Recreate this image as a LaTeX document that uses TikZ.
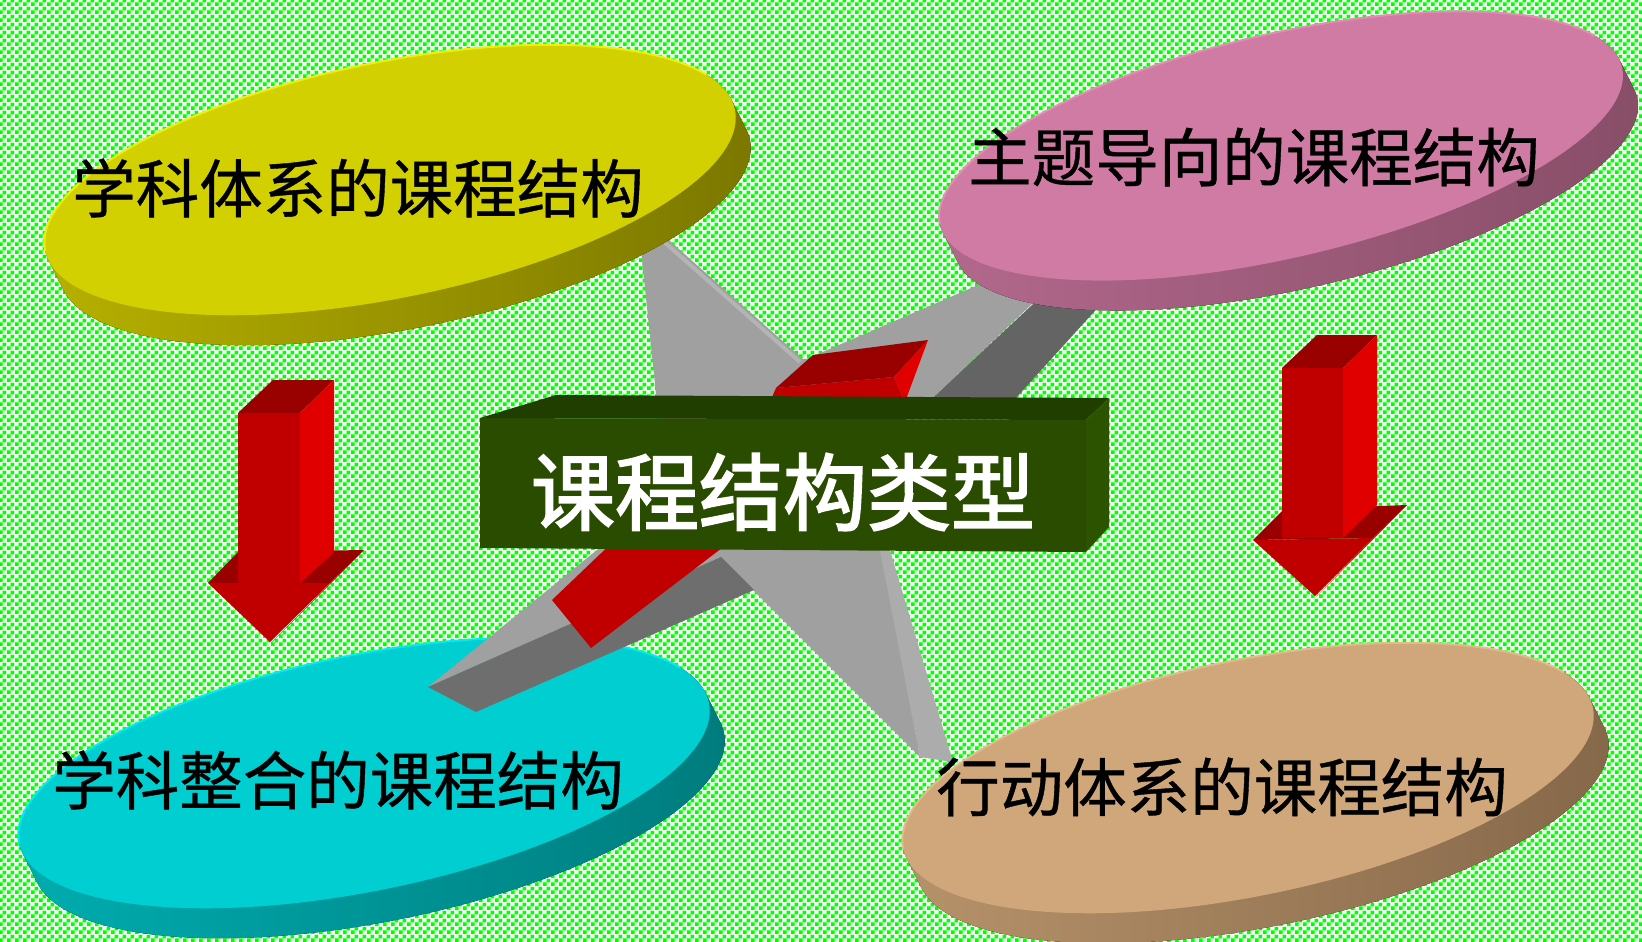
\documentclass[tikz,border=0pt]{standalone}
\usepackage{fontspec}
\newfontfamily\cjk{Noto Sans CJK SC}[FakeBold=0.6]
\newfontfamily\cjkhead{Noto Sans CJK SC}[FakeBold=2.2]
\usetikzlibrary{patterns}

% green/white checker used for the backdrop
\pgfdeclarepatternformonly{greencheck}{\pgfqpoint{0pt}{0pt}}{\pgfqpoint{8pt}{8pt}}{\pgfqpoint{8pt}{8pt}}{%
  \pgfpathrectangle{\pgfqpoint{0pt}{0pt}}{\pgfqpoint{4pt}{4pt}}%
  \pgfpathrectangle{\pgfqpoint{4pt}{4pt}}{\pgfqpoint{4pt}{4pt}}%
  \pgfusepath{fill}}

\definecolor{bggreen}{RGB}{0,255,0}
\definecolor{bgpale}{RGB}{232,255,232}
\definecolor{yelface}{RGB}{210,208,0}
\definecolor{yelsideA}{RGB}{182,176,0}
\definecolor{yelsideB}{RGB}{124,120,0}
\definecolor{yelrim}{RGB}{240,240,0}
\definecolor{pinkface}{RGB}{207,123,163}
\definecolor{pinksideA}{RGB}{178,104,140}
\definecolor{pinksideB}{RGB}{136,78,104}
\definecolor{pinkrim}{RGB}{228,140,182}
\definecolor{cyanface}{RGB}{0,206,209}
\definecolor{cyansideA}{RGB}{0,172,175}
\definecolor{cyansideB}{RGB}{0,124,126}
\definecolor{cyanrim}{RGB}{0,236,240}
\definecolor{tanface}{RGB}{207,167,123}
\definecolor{tansideA}{RGB}{182,146,106}
\definecolor{tansideB}{RGB}{134,104,74}
\definecolor{tanrim}{RGB}{226,186,140}
\definecolor{starlight}{RGB}{160,160,160}
\definecolor{stardarkA}{RGB}{100,100,100}
\definecolor{stardarkB}{RGB}{110,110,110}
\definecolor{starside}{RGB}{172,172,172}
\definecolor{starbevel}{RGB}{180,180,180}
\definecolor{redtop}{RGB}{153,0,0}
\definecolor{redfront}{RGB}{192,0,0}
\definecolor{redright}{RGB}{224,0,0}
\definecolor{boxfront}{RGB}{42,76,0}
\definecolor{boxtop}{RGB}{32,62,0}
\definecolor{boxright}{RGB}{44,84,0}

% a tilted disc seen in 3D: #1 centre, #2 tilt, #3/#4 radii,
% #5 face colour, #6/#7 side shading, #8 rim colour
\newcommand\drawdisc[8]{%
  \begin{scope}[shift={#1}, rotate=#2, x=1pt, y=1pt]
    \pgfmathsetmacro\dsx{15*cos(#2)-30*sin(#2)}%
    \pgfmathsetmacro\dsy{-15*sin(#2)-30*cos(#2)}%
    \pgfmathsetmacro\dta{atan((\dsx*#4)/(-\dsy*#3))}%
    \pgfmathsetmacro\dtb{\dta+180}%
    \pgfmathsetmacro\dtc{\dta+360}%
    \pgfmathsetmacro\dtd{\dta+15}%
    \pgfmathsetmacro\dte{\dta+175}%
    \fill[left color=#6, right color=#7]
      plot[domain=\dta:\dtb, samples=100] ({#3*cos(\x)}, {#4*sin(\x)})
      -- plot[domain=\dtb:\dtc, samples=100] ({\dsx+#3*cos(\x)}, {\dsy+#4*sin(\x)})
      -- cycle;
    \fill[#5] (0,0) ellipse [x radius=#3, y radius=#4];
    \draw[#8, line width=2pt, line cap=round]
      plot[domain=\dtd:\dte, samples=80] ({#3*cos(\x)}, {#4*sin(\x)});
  \end{scope}}

\begin{document}
\begin{tikzpicture}[x=1pt, y=-1pt,
  label/.style={font=\cjk\fontsize{63.5}{70}\selectfont, text=black, inner sep=0pt},
  title/.style={font=\cjkhead\fontsize{84}{92}\selectfont, text=white, inner sep=0pt}]

\useasboundingbox (0,0) rectangle (1642,942);
\fill[bgpale] (0,0) rectangle (1642,942);
\fill[pattern=greencheck, pattern color=bggreen] (0,0) rectangle (1642,942);

% lower discs sit beneath the star
\drawdisc{(364,773)}{11.5}{352}{118}{cyanface}{cyansideA}{cyansideB}{cyanrim}
\drawdisc{(1248,778)}{11.5}{352}{118}{tanface}{tansideA}{tansideB}{tanrim}

% four-pointed grey star
\fill[starlight] (637,212) -- (804,360) -- (1113,227) -- (920,410) -- (838,420)
  -- (882,553) -- (920,757) -- (723,560) -- (721,557) -- (428,687) -- (597,550)
  -- (640,515) -- (665,480) -- cycle;
\fill[stardarkA] (920,410) -- (1110,232) -- (1150,250) -- (1005,410) -- cycle;
\fill[stardarkB] (428,687) -- (476,712) -- (754,590) -- (721,557) -- cycle;
\fill[starside] (876,530) -- (920,757) -- (953,762) -- (884,530) -- cycle;
\draw[starbevel, line width=4pt] (662,240) -- (800,362);

% red bar crossing behind the title block
\fill[redfront] (552,600) -- (591,648) -- (735,538) -- (617,538) -- cycle;
\fill[redfront] (776,388) -- (894,377) -- (905,402) -- (905,425) -- (760,425) -- cycle;
\fill[redtop] (776,388) -- (813,355) -- (928,340) -- (894,377) -- cycle;
\fill[redright] (894,377) -- (928,340) -- (905,402) -- cycle;

% upper discs cover the star tips
\drawdisc{(390,180)}{11.5}{352}{118}{yelface}{yelsideA}{yelsideB}{yelrim}
\drawdisc{(1281,146)}{13}{350}{112}{pinkface}{pinksideA}{pinksideB}{pinkrim}

% title block
\fill[boxtop] (480,418) -- (556,395) -- (1109,398) -- (1086,420) -- cycle;
\fill[boxright] (1086,420) -- (1109,398) -- (1109,527) -- (1086,552) -- cycle;
\fill[boxfront] (480,418) -- (1086,420) -- (1086,552) -- (480,548) -- cycle;
\node[title] (main) at (783,492) {课程结构类型};

% left downward arrow
\fill[redtop] (208,583) -- (238,552) -- (364,550) -- (330,583) -- cycle;
\fill[redtop] (238,413) -- (273,380) -- (334,380) -- (300,413) -- cycle;
\fill[redright] (300,413) -- (334,380) -- (334,552) -- (300,583) -- cycle;
\fill[redfront] (238,413) -- (300,413) -- (300,583) -- (238,583) -- cycle;
\fill[redfront] (208,583) -- (330,583) -- (270,642) -- cycle;
\fill[redright] (330,583) -- (364,550) -- (271,643) -- cycle;

% right downward arrow
\fill[redtop] (1253,540) -- (1283,510) -- (1407,505) -- (1373,538) -- cycle;
\fill[redtop] (1282,368) -- (1317,335) -- (1377,335) -- (1343,368) -- cycle;
\fill[redright] (1343,368) -- (1377,335) -- (1377,505) -- (1343,538) -- cycle;
\fill[redfront] (1282,368) -- (1343,368) -- (1343,538) -- (1282,538) -- cycle;
\fill[redfront] (1253,540) -- (1373,538) -- (1315,596) -- cycle;
\fill[redright] (1373,538) -- (1407,505) -- (1316,597) -- cycle;

% disc labels
\node[label] (subject) at (358,188) {学科体系的课程结构};
\node[label] (theme) at (1254,157) {主题导向的课程结构};
\node[label] (integr) at (338,780) {学科整合的课程结构};
\node[label] (action) at (1222,787) {行动体系的课程结构};
\end{tikzpicture}
\end{document}
